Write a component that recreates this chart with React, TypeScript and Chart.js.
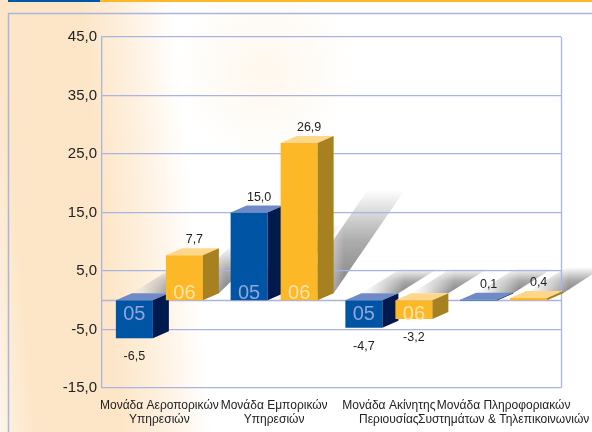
import React, { useEffect, useRef } from "react";
import { Chart, registerables } from "chart.js";

Chart.register(...registerables);

// ---- data ----
const categories: string[][] = [
  ["Μονάδα Αεροπορικών", "Υπηρεσιών"],
  ["Μονάδα Εμπορικών", "Υπηρεσιών"],
  ["Μονάδα Ακίνητης", "Περιουσίας"],
  ["Μονάδα Πληροφοριακών", "Συστημάτων & Τηλεπικοινωνιών"],
];
const seriesNames = ["05", "06"];
const values05 = [-6.5, 15.0, -4.7, 0.1];
const values06 = [7.7, 26.9, -3.2, 0.4];
const yTicks = [-15, -5, 5, 15, 25, 35, 45];

// ---- style ----
const FONT = '"Liberation Sans", Arial, Helvetica, sans-serif';
const GRID = "#a9b4e2";
const DX = 16;
const DY = 7;
const palettes = [
  { front: "#0054a4", top: "#6f8ac6", side: "#001a4e", text: "#8ea6da" },
  { front: "#fdb827", top: "#ffd78b", side: "#a7801f", text: "#ffe3a6" },
];
const fmt = (v: number) => v.toFixed(1).replace(".", ",");

function drawBox(ctx: CanvasRenderingContext2D, x0: number, x1: number, yTop: number, yBot: number, p: any) {
  const yB = Math.max(yBot, yTop + 0.8);
  ctx.fillStyle = p.front;
  ctx.fillRect(x0, yTop, x1 - x0, yB - yTop);
  ctx.fillStyle = p.top;
  ctx.beginPath();
  ctx.moveTo(x0, yTop);
  ctx.lineTo(x0 + DX, yTop - DY);
  ctx.lineTo(x1 + DX, yTop - DY);
  ctx.lineTo(x1, yTop);
  ctx.closePath();
  ctx.fill();
  ctx.fillStyle = p.side;
  ctx.beginPath();
  ctx.moveTo(x1, yTop);
  ctx.lineTo(x1 + DX, yTop - DY);
  ctx.lineTo(x1 + DX, yB - DY);
  ctx.lineTo(x1, yB);
  ctx.closePath();
  ctx.fill();
}

const deco3d = {
  id: "deco3d",
  beforeDraw(chart: any) {
    const ctx: CanvasRenderingContext2D = chart.ctx;
    const W = chart.width;
    const H = chart.height;
    ctx.save();
    ctx.fillStyle = "#ffffff";
    ctx.fillRect(0, 0, W, H);
    const g = ctx.createLinearGradient(0, H, 220, H - 20);
    g.addColorStop(0, "#fef6ea");
    g.addColorStop(0.06, "#fdeed9");
    g.addColorStop(0.16, "#fde6c7");
    g.addColorStop(0.55, "#fde6c8");
    g.addColorStop(0.75, "#fef1e0");
    g.addColorStop(0.88, "#fffaf4");
    g.addColorStop(0.96, "#ffffff");
    ctx.fillStyle = g;
    ctx.fillRect(0, 0, W, H);
    const r = ctx.createRadialGradient(265, 70, 0, 265, 70, 90);
    r.addColorStop(0, "rgba(253,232,200,0.35)");
    r.addColorStop(1, "rgba(253,232,200,0)");
    ctx.fillStyle = r;
    ctx.fillRect(0, 0, W, H);

    // top strip
    ctx.fillStyle = "#0057a8";
    ctx.fillRect(8, 0, 92, 2);
    ctx.fillStyle = "#fdb827";
    ctx.fillRect(100, 0, W - 100, 2);
    // panel border
    ctx.strokeStyle = "#aab5de";
    ctx.lineWidth = 1.5;
    ctx.beginPath();
    ctx.moveTo(8.5, H);
    ctx.lineTo(8.5, 13.5);
    ctx.lineTo(W, 13.5);
    ctx.stroke();

    // shadows
    const yz = chart.scales.y.getPixelForValue(0);
    const off = document.createElement("canvas");
    off.width = W;
    off.height = H;
    const o = off.getContext("2d") as CanvasRenderingContext2D;
    chart.data.datasets.forEach((_: any, di: number) => {
      const meta = chart.getDatasetMeta(di);
      meta.data.forEach((el: any) => {
        const x0 = el.x - el.width / 2;
        const x1 = el.x + el.width / 2;
        const h = Math.max(0, yz - el.y);
        const Lx = 40 + 0.2 * h;
        const Ly = 25 + 0.5 * h;
        const xl = x0 + DX;
        const xr = x1 + DX;
        const yb = yz - DY;
        o.clearRect(0, 0, W, H);
        o.globalCompositeOperation = "source-over";
        const cg = o.createLinearGradient(xl, 0, xr + Lx * 0.15, 0);
        cg.addColorStop(0, "rgba(235,235,235,0.15)");
        cg.addColorStop(0.5, "rgba(165,165,165,0.55)");
        cg.addColorStop(1, "rgba(95,95,95,0.8)");
        o.fillStyle = cg;
        o.beginPath();
        o.moveTo(xl, yb);
        o.lineTo(xr, yb);
        o.lineTo(xr + Lx, yb - Ly);
        o.lineTo(xl + Lx, yb - Ly);
        o.closePath();
        o.fill();
        o.globalCompositeOperation = "destination-in";
        const ag = o.createLinearGradient(0, yb, 0, yb - Ly);
        ag.addColorStop(0, "rgba(0,0,0,1)");
        ag.addColorStop(0.5, "rgba(0,0,0,0.65)");
        ag.addColorStop(1, "rgba(0,0,0,0)");
        o.fillStyle = ag;
        o.fillRect(0, 0, W, H);
        o.globalCompositeOperation = "source-over";
        ctx.drawImage(off, 0, 0);
      });
    });
    ctx.restore();
  },
  beforeDatasetsDraw(chart: any) {
    const ctx: CanvasRenderingContext2D = chart.ctx;
    const a = chart.chartArea;
    const yz = chart.scales.y.getPixelForValue(0);
    ctx.save();
    ctx.strokeStyle = GRID;
    ctx.lineWidth = 1.3;
    ctx.beginPath();
    ctx.moveTo(a.left, Math.round(yz) + 0.5);
    ctx.lineTo(a.right, Math.round(yz) + 0.5);
    ctx.moveTo(Math.round(a.right) + 0.5, a.top);
    ctx.lineTo(Math.round(a.right) + 0.5, a.bottom);
    ctx.stroke();
    ctx.restore();
  },
  afterDatasetsDraw(chart: any) {
    const ctx: CanvasRenderingContext2D = chart.ctx;
    const yz = chart.scales.y.getPixelForValue(0);
    const n = chart.data.labels.length;
    ctx.save();
    for (let i = 0; i < n; i++) {
      chart.data.datasets.forEach((ds: any, di: number) => {
        const el = chart.getDatasetMeta(di).data[i];
        const p = palettes[di];
        const x0 = el.x - el.width / 2;
        const x1 = el.x + el.width / 2;
        const yTop = Math.min(el.y, yz);
        const yBot = Math.max(el.y, yz);
        drawBox(ctx, x0, x1, yTop, yBot, p);
        if (yBot - yTop >= 15) {
          ctx.fillStyle = p.text;
          ctx.font = `20px ${FONT}`;
          ctx.textAlign = "center";
          ctx.textBaseline = "alphabetic";
          const ty = el.y < yz ? yz - 1 : yz + 20;
          ctx.fillText(ds.label, el.x, ty);
        }
      });
    }
    // value labels
    chart.data.datasets.forEach((ds: any, di: number) => {
      const meta = chart.getDatasetMeta(di);
      meta.data.forEach((el: any, i: number) => {
        const v = ds.data[i];
        ctx.fillStyle = "#222222";
        ctx.font = `12.5px ${FONT}`;
        ctx.textAlign = "center";
        ctx.textBaseline = "alphabetic";
        if (v >= 0) ctx.fillText(fmt(v), el.x + 10, el.y - 12);
        else ctx.fillText(fmt(v), el.x, el.y + 22);
      });
    });
    ctx.restore();
  },
};

export default function App() {
  const ref = useRef<HTMLCanvasElement | null>(null);
  useEffect(() => {
    if (!ref.current) return;
    Chart.defaults.font.family = FONT;
    const chart = new Chart(ref.current, {
      type: "bar",
      data: {
        labels: categories as any,
        datasets: seriesNames.map((name, i) => ({
          label: name,
          data: i === 0 ? values05 : values06,
          backgroundColor: "rgba(0,0,0,0)",
          borderWidth: 0,
          categoryPercentage: 0.8715,
          barPercentage: 0.74,
        })),
      },
      options: {
        responsive: false,
        animation: false,
        layout: { padding: { left: 0, top: 37, right: 31, bottom: 0 } },
        plugins: {
          legend: { display: false },
          tooltip: { enabled: false },
        },
        scales: {
          x: {
            grid: { display: false, drawTicks: false },
            border: { display: false },
            ticks: {
              color: "#222222",
              font: { family: FONT, size: 12, lineHeight: 1.2 },
              padding: 10,
              maxRotation: 0,
              minRotation: 0,
              autoSkip: false,
            },
            afterFit: (s: any) => {
              s.height = 44;
              s.paddingLeft = 0;
              s.paddingRight = 0;
            },
          },
          y: {
            min: yTicks[0],
            max: yTicks[yTicks.length - 1],
            afterBuildTicks: (s: any) => {
              s.ticks = yTicks.map((v) => ({ value: v }));
            },
            ticks: {
              callback: (v: any) => fmt(Number(v)),
              color: "#222222",
              font: { family: FONT, size: 15 },
              padding: 5,
            },
            grid: { color: GRID, lineWidth: 1.3, drawTicks: false },
            border: { display: true, color: GRID, width: 1.3 },
            afterFit: (s: any) => {
              s.width = 102;
              s.paddingTop = 0;
              s.paddingBottom = 0;
            },
          },
        },
      },
      plugins: [deco3d],
    });
    return () => chart.destroy();
  }, []);
  return (
    <canvas
      ref={ref}
      width={592}
      height={432}
      style={{ position: "fixed", left: 0, top: 0, width: 592, height: 432 }}
    />
  );
}
